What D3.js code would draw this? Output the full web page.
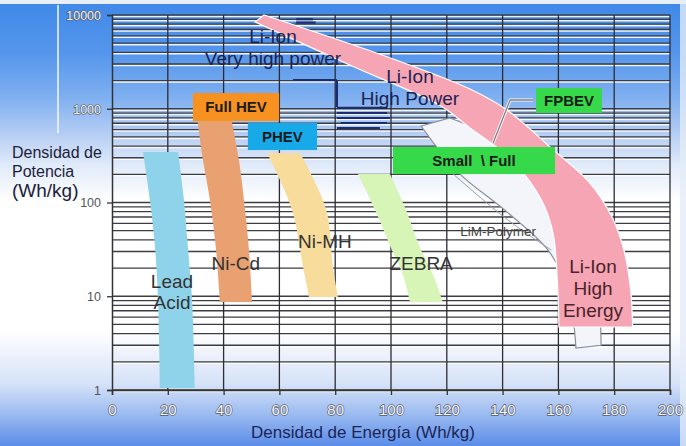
<!DOCTYPE html>
<html><head><meta charset="utf-8">
<script src="https://cdn.jsdelivr.net/npm/d3@7"></script>
<style>
html,body{margin:0;padding:0;background:#fff;}
svg text{font-family:"Liberation Sans",Arial,sans-serif;}
</style></head>
<body><svg id="c" width="686" height="446"></svg>
<script>
// ---------- data (energy Wh/kg, power W/kg) ----------
const xTicks = [0,20,40,60,80,100,120,140,160,180,200];
const yTicks = [1,10,100,1000,10000];
const xTitle = "Densidad de Energía (Wh/kg)";
const yTitle = ["Densidad de","Potencia","(Wh/kg)"];

// band edges, top to bottom: [energy, power]
const leadAcidL = [[11.1,346],[13.6,106],[15.4,33.5],[16.5,9.1],[17.2,1.05]];
const leadAcidR = [[23.7,346],[25.8,106],[27.2,33.5],[28.7,9.1],[29.7,1.05]];
const niCdL = [[30.5,800],[32.6,284],[35.1,106],[37.3,31],[38.7,8.7]];
const niCdR = [[42.7,800],[45.5,284],[47.3,106],[49.1,31],[50.2,8.7]];
const niMhL = [[55.6,337],[60.2,174],[64.9,77],[68.5,20.5],[70.6,9.8]];
const niMhR = [[67.4,337],[72.4,174],[77.1,77],[79.2,20.5],[81.0,9.8]];
const zebraL = [[88.2,201],[94.3,83],[99.6,35],[104.3,16.9],[106.8,8.7]];
const zebraR = [[99.6,201],[105.4,83],[110.0,35],[115.1,16.9],[118.6,8.7]];
const liIonU = [[54.5,10000],[101.8,3311],[128.3,1625],[141.6,970],[157,391],[171.3,161],[179.2,70],[183.4,31.9],[185.9,11.7],[186.6,4.7]];
const liIonL = [[51.3,8414],[86,2858],[117.9,1070],[128.3,623],[139.1,363],[148,196],[154.8,94],[158.2,45],[159.6,14.9],[160.2,4.7]];
const limPolyL = [[110.8,655],[124,211],[141.6,79],[156.3,31],[163.4,11.7],[166.3,2.8]];
const limPolyR = [[121.1,797],[139.1,464],[153.4,222],[162.4,83],[169.5,24.4],[174.2,9.1],[175.3,3.0]];
const limInner = [[121.5,211],[141.6,66],[157.5,31]];
const vhpLines = [[64.9,2027,80.6,2027],[80.6,2027,80.6,1044],[80.6,1021,98.6,1021],[80.6,901,98.6,901],[80.6,797,99.6,797],[82,705,98.6,705],[80.6,623,96,623],[66,9000,72,9000],[66,8300,73,8300]];

// boxes
const boxNames = ["Full HEV","PHEV","Small  \\ Full","FPBEV"];
const boxE0 = [29.0,48.7,100.7,152.0];
const boxE1 = [59.9,73.5,158.8,175.6];
const boxPTop = [1472,705,391,1664];
const boxPBot = [740,363,201,901];
const fpbevLink = [[136.6,431],[142.7,1240],[150.9,1240]];

// text annotations (baseline position in data units)
const annotText = ["Li-Ion","Very high power","Li-Ion","High Power","Lead","Acid","Ni-Cd","Ni-MH","ZEBRA","LiM-Polymer","Li-Ion","High","Energy"];
const annotE = [57.7,57.7,106.8,106.8,21.5,21.5,44.4,76.3,110.8,138.4,172.4,172.4,172.4];
const annotP = [5025,2929,1883,1096,12.2,7.3,19,32.7,19,44,17.7,10.3,6.0];

// ---------- chart ----------
const W=686,H=446;
const svg=d3.select("#c");
const x=d3.scaleLinear().domain([0,200]).range([112,670]);
const y=d3.scaleLog().domain([1,10000]).range([390,15]);

const defs=svg.append("defs");
const g=defs.append("linearGradient").attr("id","bg").attr("x1",0).attr("y1",0).attr("x2",0).attr("y2",1);
[[0,"#3f88e8"],[0.12,"#5596ec"],[0.22,"#80b0f0"],[0.3,"#b5cdf4"],[0.37,"#e0eaf9"],[0.45,"#ffffff"],[0.74,"#ffffff"],[0.86,"#d6e2f8"],[0.93,"#9abaf0"],[1,"#5a8ce8"]]
 .forEach(s=>g.append("stop").attr("offset",s[0]).attr("stop-color",s[1]));
svg.append("rect").attr("width",W).attr("height",H).attr("fill","url(#bg)");
svg.append("rect").attr("width",W).attr("height",4).attr("fill","#e8eef8");
svg.append("rect").attr("x",680).attr("width",6).attr("height",H).attr("fill","#e4ecf8").attr("opacity",0.8);
svg.append("line").attr("x1",58).attr("x2",58).attr("y1",5).attr("y2",133).attr("stroke","#f4f8ff").attr("stroke-width",1.5);

// grid
const minor=[];
for(let n=0;n<4;n++) for(let k=1;k<10;k++) minor.push(k*Math.pow(10,n));
minor.push(10000);
const grid=svg.append("g");
grid.selectAll(".hw").data(minor).join("line")
 .attr("x1",x(0)).attr("x2",x(200)).attr("y1",d=>y(d)+1.4).attr("y2",d=>y(d)+1.4)
 .attr("stroke","#ffffff").attr("stroke-width",1.8).attr("opacity",0.9);
grid.selectAll(".hd").data(minor).join("line")
 .attr("x1",x(0)).attr("x2",x(200)).attr("y1",d=>y(d)).attr("y2",d=>y(d))
 .attr("stroke","#3c3c44").attr("stroke-width",1.3);
grid.selectAll(".v").data(xTicks.slice(1)).join("line")
 .attr("x1",d=>x(d)).attr("x2",d=>x(d)).attr("y1",y(10000)).attr("y2",y(1))
 .attr("stroke","#2c2c34").attr("stroke-width",1.3);

// axes
const xa=svg.append("g").attr("transform",`translate(0,${y(1)})`)
 .call(d3.axisBottom(x).tickValues(xTicks).tickSize(5).tickPadding(9).tickFormat(d3.format("d")));
const ya=svg.append("g").attr("transform",`translate(${x(0)},0)`)
 .call(d3.axisLeft(y).tickValues(yTicks).tickSize(5).tickPadding(6).tickFormat(d3.format("d")));
[xa,ya].forEach(a=>{a.select(".domain").attr("stroke","#333").attr("stroke-width",1.5);
 a.selectAll(".tick line").attr("stroke","#333").attr("stroke-width",1.3);});
xa.selectAll(".tick text").attr("font-size",15).attr("font-family","'Liberation Sans',Arial,sans-serif")
 .attr("fill","#f6f8fc").attr("stroke","#555562").attr("stroke-width",1.3).attr("paint-order","stroke");
ya.selectAll(".tick text").attr("font-size",12.5).attr("font-family","'Liberation Sans',Arial,sans-serif")
 .attr("fill",d=>d>=1000?"#f6f8fc":"#555").attr("stroke",d=>d>=1000?"#555562":"none").attr("stroke-width",1.2).attr("paint-order","stroke")
 .attr("dy","0.35em");

// very high power navy region
svg.append("g").selectAll("line").data(vhpLines).join("line")
 .attr("x1",d=>x(d[0])).attr("y1",d=>y(d[1])).attr("x2",d=>x(d[2])).attr("y2",d=>y(d[3]))
 .attr("stroke","#1b2d6e").attr("stroke-width",2.2);

const line=d3.line().x(d=>x(d[0])).y(d=>y(d[1])).curve(d3.curveCatmullRom);
function band(L,R){const a=line(L);const b=line(R.slice().reverse());return a+"L"+b.slice(1)+"Z";}

svg.append("path").attr("d",band(limPolyL,limPolyR)).attr("fill","#f3f5fb").attr("stroke","#8a8f9c").attr("stroke-width",1.2);
svg.append("path").attr("d",line(limInner)).attr("fill","none").attr("stroke","#9a9ead").attr("stroke-width",1);
svg.append("path").attr("d",band(liIonL,liIonU)).attr("fill","#f6a5b4").attr("stroke","#ffffff").attr("stroke-width",1.2);
svg.append("path").attr("d",band(leadAcidL,leadAcidR)).attr("fill","#8fd3ea");
svg.append("path").attr("d",band(niCdL,niCdR)).attr("fill","#e9a171");
svg.append("path").attr("d",band(niMhL,niMhR)).attr("fill","#f8dc9c");
svg.append("path").attr("d",band(zebraL,zebraR)).attr("fill","#d6f5b6");

// FPBEV link
const lin=d3.line().x(d=>x(d[0])).y(d=>y(d[1]));
svg.append("path").attr("d",lin(fpbevLink)).attr("fill","none").attr("stroke","#ffffff").attr("stroke-width",3);
svg.append("path").attr("d",lin(fpbevLink)).attr("fill","none").attr("stroke","#7c7f88").attr("stroke-width",1.3);

// boxes
const boxFill=["#f7911f","#18a9e8","#36d94a","#36d94a"];
const bx=svg.append("g").selectAll("g").data(boxNames).join("g");
bx.append("rect").attr("x",(d,i)=>x(boxE0[i])).attr("y",(d,i)=>y(boxPTop[i]))
 .attr("width",(d,i)=>x(boxE1[i])-x(boxE0[i])).attr("height",(d,i)=>y(boxPBot[i])-y(boxPTop[i]))
 .attr("fill",(d,i)=>boxFill[i]);
bx.append("text").attr("x",(d,i)=>(x(boxE0[i])+x(boxE1[i]))/2).attr("y",(d,i)=>(y(boxPTop[i])+y(boxPBot[i]))/2)
 .attr("dy","0.36em").attr("text-anchor","middle").attr("font-size",15).attr("font-weight","bold")
 .attr("fill","#1a1a1a").attr("xml:space","preserve").text(d=>d);

// annotations
const annColor=["#1c2350","#1c2350","#1c2350","#1c2350","#333","#333","#333","#333","#333","#444","#4a2228","#4a2228","#4a2228"];
const annSize=[19,19,19,19,19,19,19,19,19,13.5,19,19,19];
svg.append("g").selectAll("text").data(annotText).join("text")
 .attr("x",(d,i)=>x(annotE[i])).attr("y",(d,i)=>y(annotP[i]))
 .attr("text-anchor","middle").attr("font-size",(d,i)=>annSize[i]).attr("fill",(d,i)=>annColor[i])
 .text(d=>d);

// titles
svg.append("text").attr("x",363).attr("y",438).attr("text-anchor","middle").attr("font-size",17)
 .attr("fill","#1c2555").text(xTitle);
svg.append("g").selectAll("text").data(yTitle).join("text")
 .attr("x",12).attr("y",(d,i)=>[158,177,197][i]).attr("font-size",(d,i)=>i==2?19:16)
 .attr("fill","#1d1d3a").text(d=>d);
</script></body></html>
